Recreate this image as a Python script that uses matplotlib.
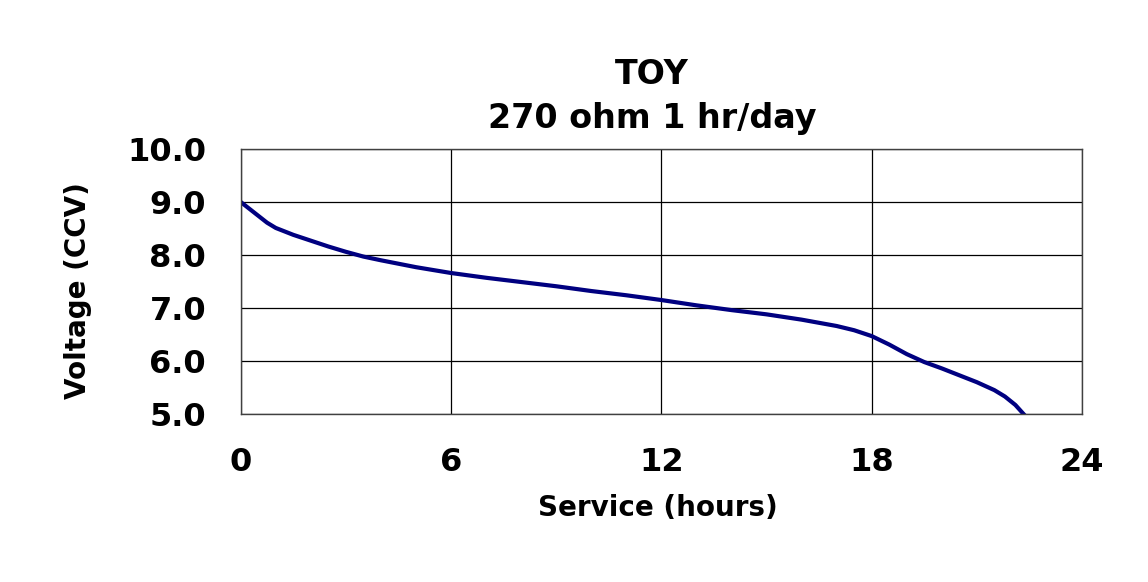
import numpy as np
import matplotlib.pyplot as plt

# service hours vs closed-circuit voltage
hours = [0, 0.25, 0.5, 0.75, 1.0, 1.5, 2.0, 2.5, 3.0, 3.5, 4.0, 5.0, 6.0, 7.0,
         8.0, 9.0, 10.0, 11.0, 12.0, 13.0, 14.0, 15.0, 16.0, 16.5, 17.0,
         17.5, 18.0, 18.5, 19.0, 19.5, 20.0, 20.5, 21.0, 21.5, 21.8, 22.1, 22.4]
voltage = [9.00, 8.87, 8.74, 8.61, 8.51, 8.38, 8.27, 8.16, 8.06, 7.97, 7.90,
           7.77, 7.66, 7.57, 7.49, 7.41, 7.32, 7.24, 7.15, 7.05, 6.96, 6.88,
           6.78, 6.72, 6.66, 6.58, 6.47, 6.31, 6.13, 5.98, 5.86, 5.73, 5.60,
           5.45, 5.33, 5.17, 4.95]

x_ticks = [0, 6, 12, 18, 24]
y_ticks = [5.0, 6.0, 7.0, 8.0, 9.0, 10.0]

fig = plt.figure(figsize=(11.48, 5.82), dpi=100)
ax = fig.add_axes([0.2097, 0.2887, 0.7328, 0.4553])

ax.plot(hours, voltage, color='#000080', linewidth=3.0, solid_joinstyle='round')

ax.set_xlim(0, 24)
ax.set_ylim(5.0, 10.0)
ax.set_xticks(x_ticks)
ax.set_yticks(y_ticks)
ax.set_xticklabels([str(t) for t in x_ticks], fontsize=23, fontweight='bold')
ax.set_yticklabels([f"{t:.1f}" for t in y_ticks], fontsize=23, fontweight='bold')
ax.tick_params(length=0)
ax.tick_params(axis='x', pad=24)
ax.tick_params(axis='y', pad=25)
ax.grid(True, color='black', linewidth=0.9)
for s in ax.spines.values():
    s.set_color('#404040')
    s.set_linewidth(1.0)

fig.text(0.568, 0.872, "TOY", ha='center', va='center', fontsize=24, fontweight='bold')
fig.text(0.568, 0.797, "270 ohm 1 hr/day", ha='center', va='center', fontsize=24, fontweight='bold')
fig.text(0.573, 0.127, "Service (hours)", ha='center', va='center', fontsize=20, fontweight='bold')
fig.text(0.068, 0.50, "Voltage (CCV)", ha='center', va='center', rotation=90,
         fontsize=20, fontweight='bold')

plt.savefig("out.png", dpi=100)
plt.close()
